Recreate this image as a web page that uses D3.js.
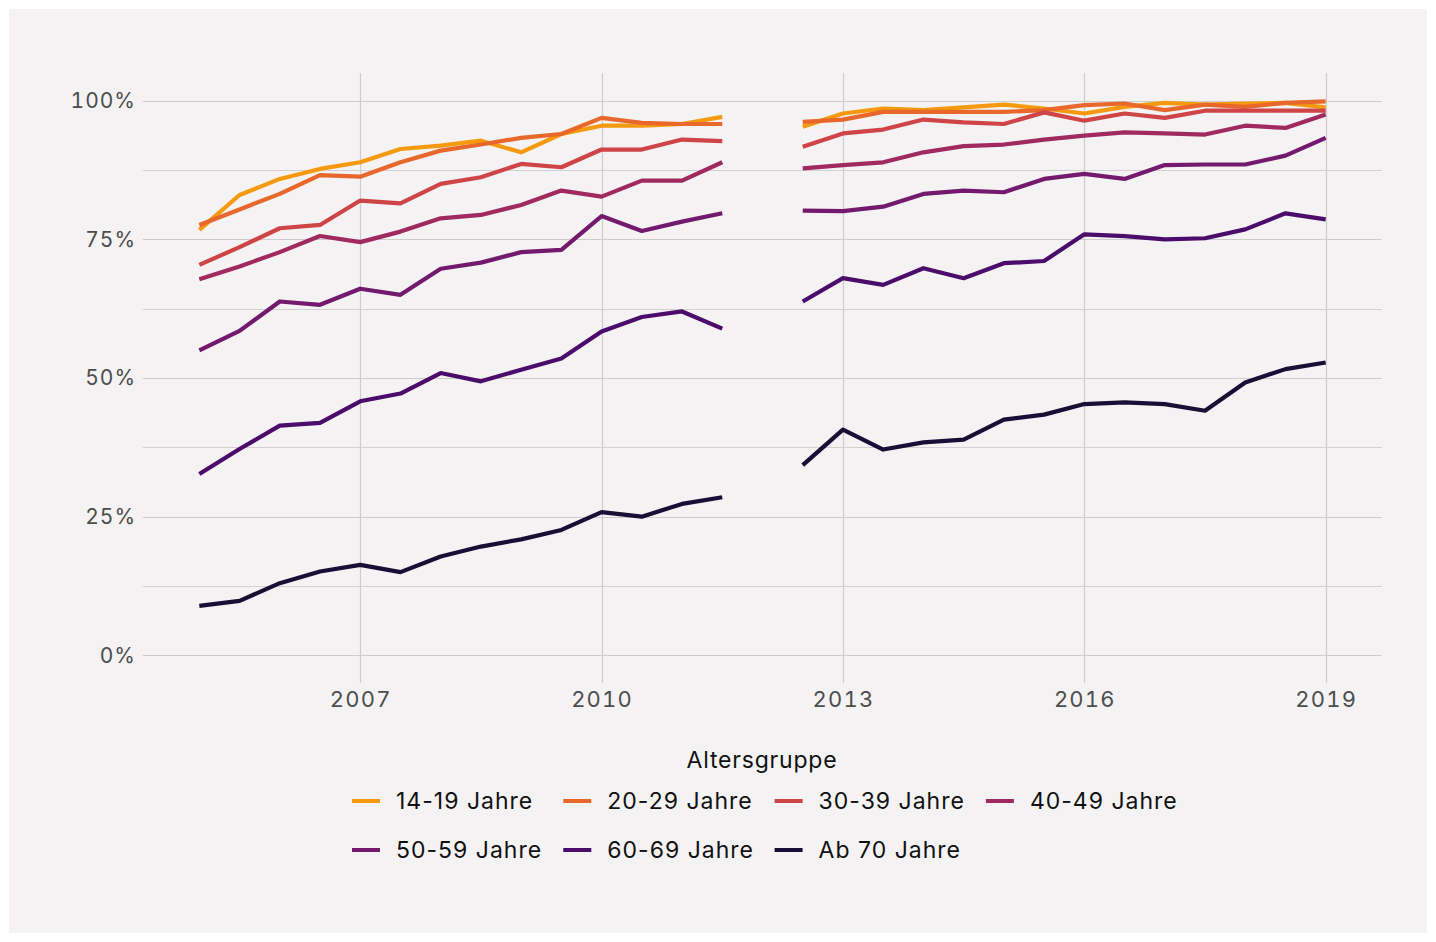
<!DOCTYPE html>
<html>
<head>
<meta charset="utf-8">
<script src="https://cdn.jsdelivr.net/npm/d3@7"></script>
<style>
  body { margin: 0; background: #ffffff; }
  svg { display: block; font-family: Inter, "DejaVu Sans", sans-serif; }
  .tick text { font-variant-numeric: tabular-nums; }
</style>
</head>
<body>
<svg id="chart" width="1436" height="942"></svg>
<script>
// half-year time points, 2012 has no data (gap)
var periods = [2005, 2005.5, 2006, 2006.5, 2007, 2007.5, 2008, 2008.5, 2009, 2009.5,
               2010, 2010.5, 2011, 2011.5, 2012, 2012.5, 2013, 2013.5, 2014, 2014.5,
               2015, 2015.5, 2016, 2016.5, 2017, 2017.5, 2018, 2018.5, 2019];

var groups = ["14-19 Jahre", "20-29 Jahre", "30-39 Jahre", "40-49 Jahre",
              "50-59 Jahre", "60-69 Jahre", "Ab 70 Jahre"];
var colors = ["#f5990f", "#e8672a", "#cf4446", "#a02a60", "#741a6e", "#4b0c6b", "#180e36"];

var v14_19 = [76.7, 83.0, 85.9, 87.7, 88.9, 91.3, 91.9, 92.8, 90.7, 94.0, 95.5, 95.5, 95.8, 97.1, null,
              95.3, 97.7, 98.6, 98.3, 98.8, 99.3, 98.6, 97.7, 98.9, 99.6, 99.3, 99.5, 99.6, 98.8];
var v20_29 = [77.6, 80.4, 83.2, 86.6, 86.3, 88.9, 91.0, 92.1, 93.3, 94.0, 96.9, 96.0, 95.8, 95.8, null,
              96.2, 96.6, 98.0, 98.0, 98.0, 98.0, 98.3, 99.2, 99.5, 98.3, 99.3, 98.9, 99.6, 99.9];
var v30_39 = [70.4, 73.6, 77.0, 77.6, 82.0, 81.5, 85.0, 86.2, 88.6, 88.0, 91.2, 91.2, 93.0, 92.7, null,
              91.7, 94.1, 94.8, 96.6, 96.1, 95.8, 97.9, 96.4, 97.7, 96.9, 98.2, 98.2, 98.2, 98.2];
var v40_49 = [67.8, 70.1, 72.7, 75.6, 74.5, 76.4, 78.8, 79.4, 81.2, 83.8, 82.7, 85.6, 85.6, 88.9, null,
              87.8, 88.4, 88.9, 90.7, 91.8, 92.1, 93.0, 93.7, 94.3, 94.1, 93.9, 95.5, 95.1, 97.5];
var v50_59 = [55.0, 58.5, 63.8, 63.2, 66.1, 65.0, 69.7, 70.8, 72.7, 73.1, 79.2, 76.5, 78.2, 79.7, null,
              80.2, 80.1, 80.9, 83.2, 83.8, 83.5, 85.9, 86.8, 85.9, 88.4, 88.5, 88.5, 90.1, 93.3];
var v60_69 = [32.7, 37.2, 41.4, 41.9, 45.8, 47.2, 50.9, 49.4, 51.5, 53.5, 58.4, 61.0, 62.0, 58.9, null,
              63.8, 68.0, 66.8, 69.8, 68.0, 70.7, 71.1, 75.9, 75.6, 75.0, 75.2, 76.8, 79.7, 78.6];
var v70 = [8.9, 9.8, 13.0, 15.1, 16.3, 15.0, 17.8, 19.6, 20.9, 22.6, 25.8, 25.0, 27.3, 28.5, null,
           34.3, 40.7, 37.1, 38.4, 38.9, 42.5, 43.4, 45.3, 45.6, 45.3, 44.1, 49.2, 51.6, 52.8];

var xTicks = [2007, 2010, 2013, 2016, 2019];
var yTicks = [0, 25, 50, 75, 100];
var yMinor = [12.5, 37.5, 62.5, 87.5];

var seriesValues = [v14_19, v20_29, v30_39, v40_49, v50_59, v60_69, v70];

function init() {
  var svg = d3.select("#chart");
  var panel = { left: 143, right: 1382, top: 73, bottom: 683 };

  // background card
  svg.append("rect")
     .attr("x", 9).attr("y", 9)
     .attr("width", 1418).attr("height", 924)
     .attr("fill", "#f4f2f3");

  var x = d3.scaleLinear()
    .domain([2004.3, 2019.7])
    .range([panel.left, panel.right]);
  var y = d3.scaleLinear()
    .domain([-5, 105])
    .range([panel.bottom, panel.top]);

  // Grid
  var grid = svg.append("g").attr("class", "grid");
  grid.selectAll(".hminor")
     .data(yMinor)
     .enter()
     .append("line")
     .attr("x1", panel.left).attr("x2", panel.right)
     .attr("y1", function(d) { return Math.round(y(d)) + 0.5; })
     .attr("y2", function(d) { return Math.round(y(d)) + 0.5; })
     .attr("stroke", "#d3d0d1").attr("stroke-width", 1);
  grid.selectAll(".hmajor")
     .data(yTicks)
     .enter()
     .append("line")
     .attr("x1", panel.left).attr("x2", panel.right)
     .attr("y1", function(d) { return Math.round(y(d)) + 0.5; })
     .attr("y2", function(d) { return Math.round(y(d)) + 0.5; })
     .attr("stroke", "#cfcccd").attr("stroke-width", 1.2);
  grid.selectAll(".vmajor")
     .data(xTicks)
     .enter()
     .append("line")
     .attr("y1", panel.top).attr("y2", panel.bottom)
     .attr("x1", function(d) { return Math.round(x(d)) + 0.5; })
     .attr("x2", function(d) { return Math.round(x(d)) + 0.5; })
     .attr("stroke", "#cfcccd").attr("stroke-width", 1.2);

  // Axes (labels only)
  var yAxis = d3.axisLeft(y)
    .tickValues(yTicks)
    .tickSize(0)
    .tickPadding(7)
    .tickFormat(function(d) { return d + "%"; });
  var gy = svg.append("g")
    .attr("transform", "translate(" + panel.left + ",0)")
    .call(yAxis);
  gy.select(".domain").remove();
  gy.selectAll("text")
    .attr("font-size", 21)
    .attr("letter-spacing", 1)
    .attr("fill", "#4d4d4d")
    .attr("font-family", "Inter, sans-serif");

  var xAxis = d3.axisBottom(x)
    .tickValues(xTicks)
    .tickSize(0)
    .tickPadding(8)
    .tickFormat(d3.format("d"));
  var gx = svg.append("g")
    .attr("transform", "translate(0," + panel.bottom + ")")
    .call(xAxis);
  gx.select(".domain").remove();
  gx.selectAll("text")
    .attr("font-size", 22)
    .attr("letter-spacing", 1.2)
    .attr("fill", "#4d4d4d")
    .attr("font-family", "Inter, sans-serif");

  // Lines
  var line = d3.line()
    .defined(function(d) { return d.v !== null; })
    .x(function(d) { return x(d.t); })
    .y(function(d) { return y(d.v); });

  var series = groups.map(function(g, i) {
    return {
      name: g,
      color: colors[i],
      points: periods.map(function(t, j) { return { t: t, v: seriesValues[i][j] }; })
    };
  });

  svg.append("g")
     .selectAll("path")
     .data(series)
     .enter()
     .append("path")
     .attr("d", function(d) { return line(d.points); })
     .attr("fill", "none")
     .attr("stroke", function(d) { return d.color; })
     .attr("stroke-width", 4.2)
     .attr("stroke-linejoin", "round");

  // Legend
  svg.append("text")
     .attr("x", 762).attr("y", 768)
     .attr("text-anchor", "middle")
     .attr("font-size", 23)
     .attr("letter-spacing", 0.8)
     .attr("fill", "#111")
     .text("Altersgruppe");

  var legend = svg.append("g");
  var item = legend.selectAll(".item")
     .data(series)
     .enter()
     .append("g")
     .attr("transform", function(d, i) {
       var col = i % 4, row = Math.floor(i / 4);
       return "translate(" + (352 + col * 211.3) + "," + (801 + row * 49) + ")";
     });
  item.append("line")
      .attr("x1", 0).attr("x2", 28)
      .attr("y1", 0).attr("y2", 0)
      .attr("stroke", function(d) { return d.color; })
      .attr("stroke-width", 4);
  item.append("text")
      .attr("x", 44).attr("y", 8)
      .attr("font-size", 23)
      .attr("letter-spacing", 1)
      .attr("fill", "#111")
      .text(function(d) { return d.name; });
}

init();
</script>
</body>
</html>
